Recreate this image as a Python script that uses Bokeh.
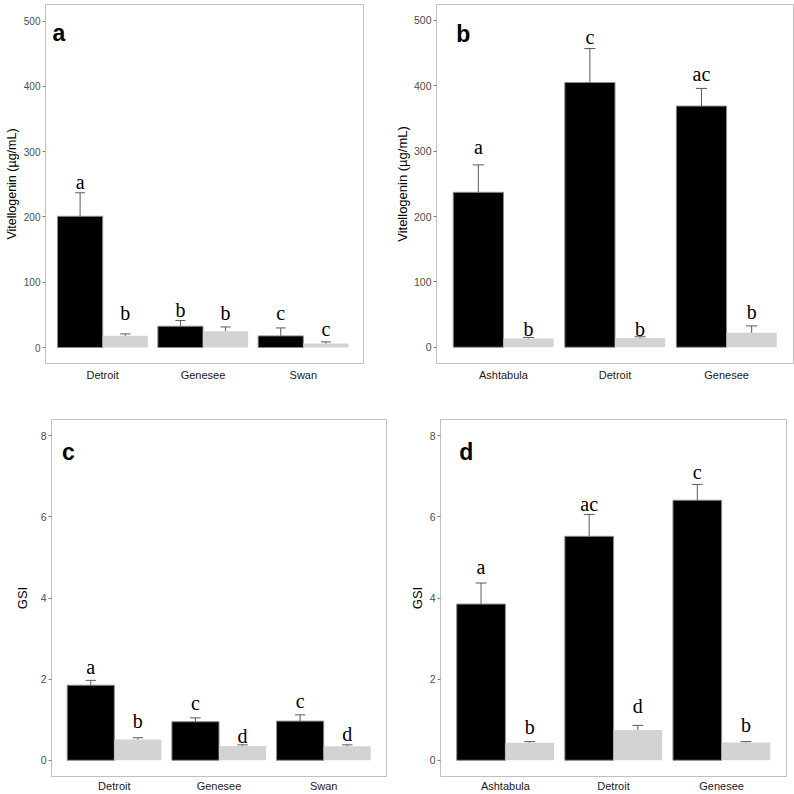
import numpy as np
from bokeh.plotting import figure
from bokeh.layouts import row, column
from bokeh.models import FixedTicker, Range1d, Label
from bokeh.core.properties import value
from bokeh.embed import file_html
from bokeh.resources import INLINE

# ---------------- data ----------------
sites_a = ["Detroit", "Genesee", "Swan"]
vtg_a_black = [201, 32.6, 17.8]
vtg_a_black_se = [36, 8.7, 12.2]
vtg_a_grey = [18, 25, 6]
vtg_a_grey_se = [2.8, 6.5, 2.6]
let_a_black = ["a", "b", "c"]
let_a_black_y = [253, 57, 53]
let_a_grey = ["b", "b", "c"]
let_a_grey_y = [53, 53, 29]

sites_b = ["Ashtabula", "Detroit", "Genesee"]
vtg_b_black = [237, 405, 369]
vtg_b_black_se = [42, 52, 27]
vtg_b_grey = [13.3, 14, 22]
vtg_b_grey_se = [1.7, 2, 10.6]
let_b_black = ["a", "c", "ac"]
let_b_black_y = [307, 475, 418.5]
let_b_grey = ["b", "b", "b"]
let_b_grey_y = [28, 28, 53.5]

sites_c = ["Detroit", "Genesee", "Swan"]
gsi_c_black = [1.85, 0.95, 0.965]
gsi_c_black_se = [0.12, 0.095, 0.155]
gsi_c_grey = [0.515, 0.35, 0.345]
gsi_c_grey_se = [0.04, 0.03, 0.035]
let_c_black = ["a", "c", "c"]
let_c_black_y = [2.3, 1.41, 1.455]
let_c_grey = ["b", "d", "d"]
let_c_grey_y = [0.965, 0.61, 0.65]

sites_d = ["Ashtabula", "Detroit", "Genesee"]
gsi_d_black = [3.85, 5.52, 6.41]
gsi_d_black_se = [0.52, 0.54, 0.39]
gsi_d_grey = [0.43, 0.745, 0.44]
gsi_d_grey_se = [0.03, 0.115, 0.02]
let_d_black = ["a", "ac", "c"]
let_d_black_y = [4.77, 6.31, 7.1]
let_d_grey = ["b", "d", "b"]
let_d_grey_y = [0.82, 1.33, 0.88]

vtg_ticks = [0, 100, 200, 300, 400, 500]
gsi_ticks = [0, 2, 4, 6, 8]


def panel(sites, blk, blk_se, gry, gry_se, lb, lby, lg, lgy, ylabel, yticks,
          tag, tagx, tagy, width, height, borders, xr, yr,
          tick_fs, title_fs, title_standoff, label_standoff):
    n = len(sites)
    bl, br, bt, bb = borders
    p = figure(width=width, height=height, output_backend="svg",
               toolbar_location=None,
               x_range=Range1d(*xr), y_range=Range1d(*yr),
               min_border_left=bl, min_border_right=br,
               min_border_top=bt, min_border_bottom=bb)
    xs = np.arange(1, n + 1)
    xb = xs - 0.225
    xg = xs + 0.225
    p.vbar(x=xb, top=blk, width=0.45, fill_color="black",
           line_color="#8a8a8a", line_width=1)
    p.vbar(x=xg, top=gry, width=0.45, fill_color="#d3d3d3",
           line_color=None)
    for xx, v, se in ((xb, blk, blk_se), (xg, gry, gry_se)):
        v = np.array(v, dtype=float)
        top = v + np.array(se, dtype=float)
        p.segment(x0=xx, y0=v, x1=xx, y1=top, line_color="#5a5a5a",
                  line_width=1)
        p.segment(x0=xx - 0.05, y0=top, x1=xx + 0.05, y1=top,
                  line_color="#5a5a5a", line_width=1)
    for xx, labs, ly in ((xb, lb, lby), (xg, lg, lgy)):
        p.text(x=xx, y=ly, text=labs, text_font=value("Liberation Serif"),
               text_font_size="20px", text_align="center",
               text_baseline="alphabetic", text_color="black")
    p.add_layout(Label(x=tagx, y=tagy, text=tag, text_font="Liberation Sans",
                       text_font_style="bold", text_font_size="23px",
                       text_color="black", text_baseline="alphabetic"))

    p.xgrid.grid_line_color = None
    p.ygrid.grid_line_color = None
    p.outline_line_color = "#c0c0c0"
    p.outline_line_width = 1
    p.background_fill_color = "white"
    p.border_fill_color = "white"

    ya = p.yaxis[0]
    ya.ticker = FixedTicker(ticks=yticks)
    ya.axis_line_color = None
    ya.major_tick_line_color = "#7f7f7f"
    ya.major_tick_out = 3
    ya.major_tick_in = 0
    ya.minor_tick_line_color = None
    ya.major_label_text_font = "Liberation Sans"
    ya.major_label_text_font_size = tick_fs
    ya.major_label_text_color = "#4d4d4d"
    ya.major_label_standoff = 2
    ya.axis_label = ylabel
    ya.axis_label_text_font = "Liberation Sans"
    ya.axis_label_text_font_size = title_fs
    ya.axis_label_text_font_style = "normal"
    ya.axis_label_text_color = "black"
    ya.axis_label_standoff = title_standoff

    xa = p.xaxis[0]
    xa.ticker = FixedTicker(ticks=list(xs))
    xa.major_label_overrides = {int(i): s for i, s in zip(xs, sites)}
    xa.axis_line_color = None
    xa.major_tick_line_color = None
    xa.major_tick_out = 0
    xa.major_tick_in = 0
    xa.minor_tick_line_color = None
    xa.major_label_text_font = "Liberation Sans"
    xa.major_label_text_font_size = "11px"
    xa.major_label_text_color = "#1a1a1a"
    xa.major_label_standoff = label_standoff
    return p


pa = panel(sites_a, vtg_a_black, vtg_a_black_se, vtg_a_grey, vtg_a_grey_se,
           let_a_black, let_a_black_y, let_a_grey, let_a_grey_y,
           "Vitellogenin (µg/mL)", vtg_ticks, "a", 0.5, 482,
           390, 397, (45, 27, 4, 34), (0.43, 3.6), (-24.5, 525.5),
           "10px", "12.5px", 2, 5)
pb = panel(sites_b, vtg_b_black, vtg_b_black_se, vtg_b_grey, vtg_b_grey_se,
           let_b_black, let_b_black_y, let_b_grey, let_b_grey_y,
           "Vitellogenin (µg/mL)", vtg_ticks, "b", 0.578, 480,
           404, 397, (46, 1, 3, 34), (0.4, 3.6), (-24.9, 524.4),
           "10.5px", "13px", 1, 5)
pc = panel(sites_c, gsi_c_black, gsi_c_black_se, gsi_c_grey, gsi_c_grey_se,
           let_c_black, let_c_black_y, let_c_grey, let_c_grey_y,
           "GSI", gsi_ticks, "c", 0.5, 7.59,
           397, 397, (51, 11, 22, 16), (0.4, 3.6), (-0.4, 8.4),
           "10.5px", "13px", 8, 3)
pd = panel(sites_d, gsi_d_black, gsi_d_black_se, gsi_d_grey, gsi_d_grey_se,
           let_d_black, let_d_black_y, let_d_grey, let_d_grey_y,
           "GSI", gsi_ticks, "d", 0.573, 7.59,
           397, 397, (43, 8, 22, 16), (0.4, 3.6), (-0.4, 8.4),
           "10.5px", "13px", 2, 3)

layout = column(row(pa, pb), row(pc, pd))

open("out.html", "w").write(file_html(layout, INLINE))
